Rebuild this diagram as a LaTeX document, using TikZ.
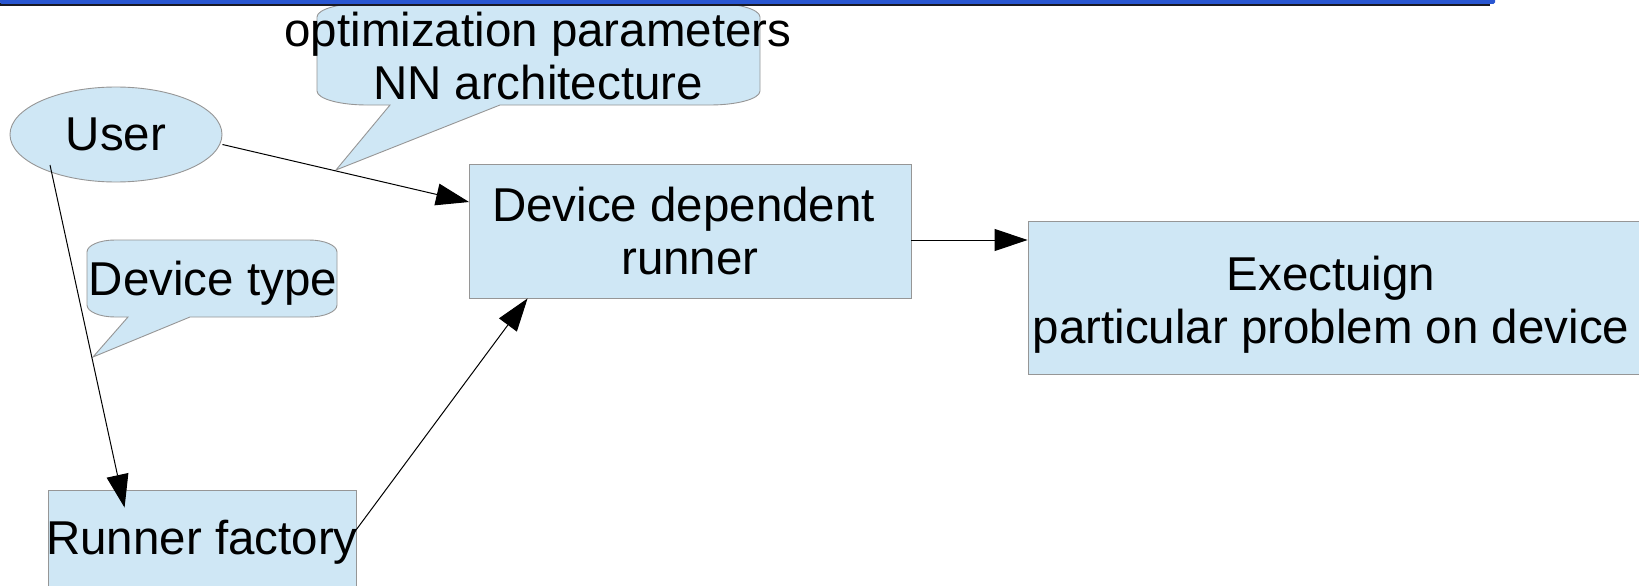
\documentclass[tikz,border=0pt]{standalone}
\usepackage{fontspec}
\setmainfont{Liberation Sans}
\usetikzlibrary{arrows.meta,shapes.geometric,calc}
\definecolor{boxfill}{RGB}{207,231,245}
\definecolor{edgegray}{RGB}{150,150,150}
\definecolor{barblue}{RGB}{41,86,209}
\definecolor{bardark}{RGB}{25,25,35}
% #1 x0, #2 y0, #3 x1, #4 y1, #5 rx, #6 ry, #7 tail left x, #8 tail right x, #9 tip
\newcommand{\mycallout}[9]{%
  \draw[callout] ({#1+#5},#2) -- ({#3-#5},#2)
    .. controls ({#3-#5+0.552*#5},#2) and (#3,{#2+#6-0.552*#6}) .. (#3,{#2+#6})
    -- (#3,{#4-#6})
    .. controls (#3,{#4-#6+0.552*#6}) and ({#3-#5+0.552*#5},#4) .. ({#3-#5},#4)
    -- (#8,#4) -- #9 -- (#7,#4) -- ({#1+#5},#4)
    .. controls ({#1+#5-0.552*#5},#4) and (#1,{#4-#6+0.552*#6}) .. (#1,{#4-#6})
    -- (#1,{#2+#6})
    .. controls (#1,{#2+#6-0.552*#6}) and ({#1+#5-0.552*#5},#2) .. ({#1+#5},#2) -- cycle;}
\begin{document}
\begin{tikzpicture}[x=1pt,y=-1pt,
  box/.style={draw=edgegray, fill=boxfill, line width=0.9pt, inner sep=0pt, rectangle},
  lbl/.style={font={\fontsize{47.5pt}{53pt}\selectfont}, inner sep=0pt, align=center, text=black},
  arr/.style={line width=1pt, draw=black, -{Triangle[length=33pt,width=22pt]}},
  callout/.style={draw=edgegray, fill=boxfill, line width=0.9pt}]
\useasboundingbox (0,0) rectangle (1639,586);
\clip (0,0) rectangle (1639,586);
\fill[white] (0,0) rectangle (1639,586);

% callouts
\mycallout{317}{3}{760}{105}{50}{14}{390}{500}{(336,170)}
\mycallout{87}{240}{337}{317}{28}{12}{128}{190}{(93,357)}

% boxes
\node[draw=edgegray, fill=boxfill, line width=0.9pt, ellipse, inner sep=0pt,
      minimum width=212pt, minimum height=95pt] (user) at (116,134.5) {};
\node[box, minimum width=441.5pt, minimum height=134pt] (ddr) at (690.25,231) {};
\node[box, minimum width=632pt, minimum height=152.3pt] (exec) at (1344,297.85) {};
\node[box, minimum width=308pt, minimum height=97pt] (factory) at (202,538.5) {};

% connectors
\draw[arr] ($(user.east)+(0,10)$) -- ($(ddr.west)+(0,-29)$);
\draw[arr] ($(user.center)+(-66,30.5)$) -- ($(factory.north west)+(77,18)$);
\draw[arr] ($(factory.east)+(-3,-5)$) -- ($(ddr.south west)+(58.5,0)$);
\draw[arr] ($(ddr.east)+(0,9)$) coordinate (ddrout) -- (ddrout -| exec.west);

% labels
\node[lbl] (user-txt) at (user.center) {User};
\node[lbl] (opt-txt) at (538,56.5) {optimization parameters\\NN architecture};
\node[lbl] (dt-txt) at (213,283) {Device type};
\node[lbl] (ddr-txt) at (690,230.7) {Device dependent\kern13pt\\runner};
\node[lbl] (exec-txt) at (1331,304.5) {Exectuign\\particular problem on device};
\node[lbl] (factory-txt) at (202,542.5) {Runner factory};

% top bar
\fill[bardark] (0,3.5) rectangle (1490,6.5);
\fill[barblue, rounded corners=1.5pt] (0,-2) rectangle (1495,3.8);
\end{tikzpicture}
\end{document}
